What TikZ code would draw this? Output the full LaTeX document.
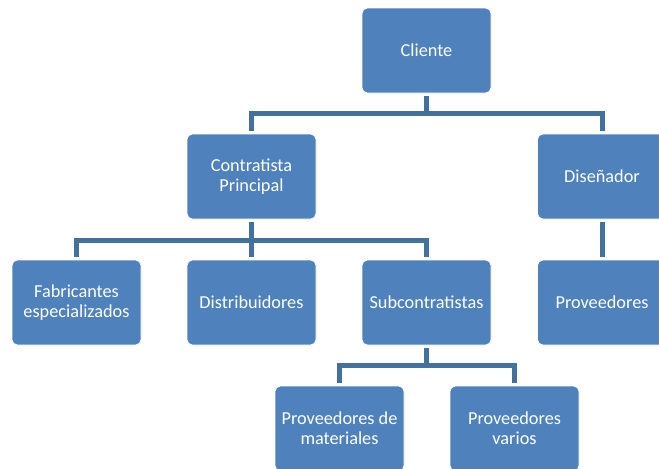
\documentclass[tikz,border=0pt]{standalone}
\usepackage{fontspec}
\setmainfont{Carlito}
\usetikzlibrary{positioning}
\definecolor{boxblue}{HTML}{4F81BD}
\definecolor{linkblue}{HTML}{41719C}
\tikzset{box/.style={draw=white,line width=0.6pt,rounded corners=4pt,fill=boxblue,text=white,align=center,font=\fontsize{13.7}{15}\selectfont,minimum width=96.75pt,minimum height=63.75pt,inner sep=2pt}, link/.style={draw=linkblue,line width=3.75pt,line join=miter,shorten >=2.25pt}}

\begin{document}
\begin{tikzpicture}[x=0.75pt,y=-0.75pt]
\clip (0,0) rectangle (659,468);
\fill[white] (0,0) rectangle (659,468);
\node[box] (cli) at (426.5,50.5){Cliente};
\node[box] (con) at (251.5,176.5){Contratista\\Principal};\node[box] (dis) at (602,176.5){Diseñador};
\node[box] (fab) at (76.5,302.5){Fabricantes\\especializados};\node[box] (dst) at (251.5,302.5){Distribuidores};
\node[box] (sub) at (426.5,302.5){Subcontratistas};\node[box] (prv) at (602,302.5){Proveedores};
\node[box] (mat) at (339.5,428.5){Proveedores de\\materiales};\node[box] (var) at (514.5,428.5){Proveedores\\varios};
% joints of the tree
\coordinate (j1) at (426.5,113);\coordinate (j2) at (251.5,240.5);\coordinate (j3) at (426.5,365);
\draw[link,shorten <=2.25pt,shorten >=0pt](cli)--(j1);\draw[link](j1)-|(con);\draw[link](j1)-|(dis);
\draw[link,shorten <=2.25pt](con)--(dst);\draw[link](j2)-|(fab);\draw[link](j2)-|(sub);
\draw[link,shorten <=2.25pt](dis)--(prv);
\draw[link,shorten <=2.25pt,shorten >=0pt](sub)--(j3);\draw[link](j3)-|(mat);\draw[link](j3)-|(var);
\end{tikzpicture}
\end{document}
